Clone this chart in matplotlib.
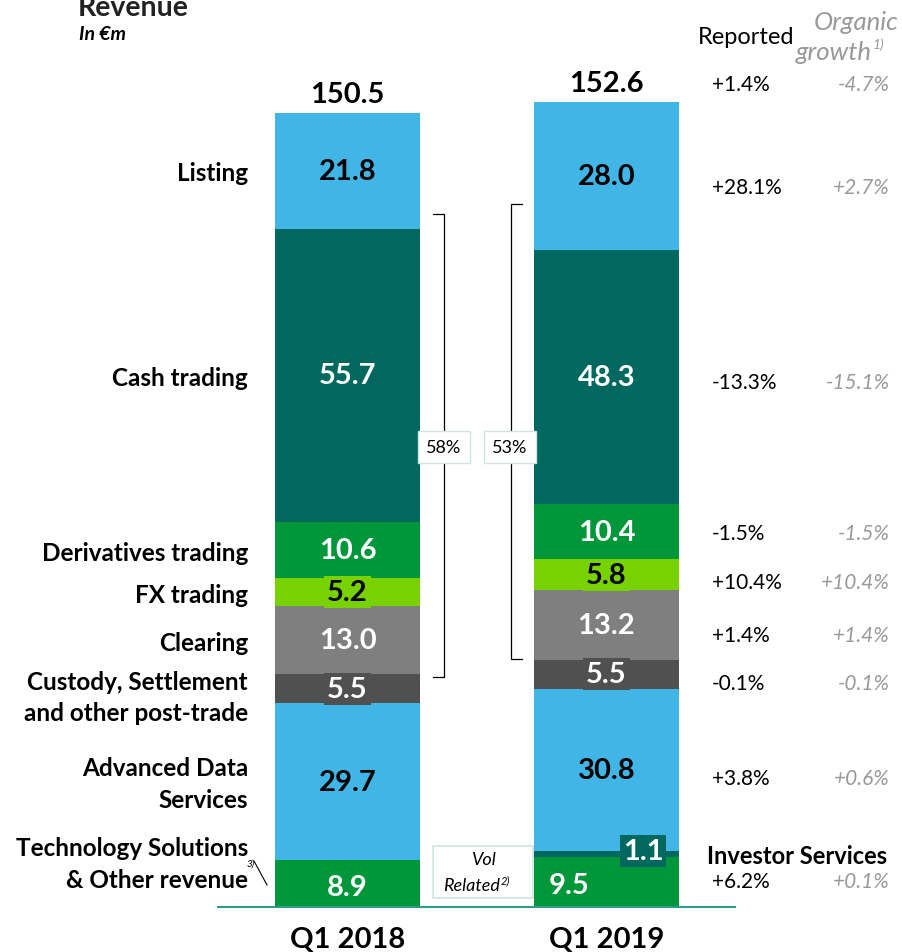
import matplotlib
matplotlib.use('Agg')
import matplotlib.pyplot as plt
import numpy as np
from matplotlib.patches import Rectangle

plt.rcParams['font.family'] = ['Lato', 'DejaVu Sans']

# Data
periods = ["Q1 2018", "Q1 2019"]
totals = ["150.5", "152.6"]
segments = ["Technology Solutions", "Investor Services", "Advanced Data Services",
            "Custody", "Clearing", "FX trading", "Derivatives trading",
            "Cash trading", "Listing"]
q1_2018 = [8.9, 0.0, 29.7, 5.5, 13.0, 5.2, 10.6, 55.7, 21.8]
q1_2019 = [9.5, 1.1, 30.8, 5.5, 13.2, 5.8, 10.4, 48.3, 28.0]
left_labels = ["Technology Solutions\n& Other revenue", None, "Advanced Data\nServices",
               "Custody, Settlement\nand other post-trade", "Clearing", "FX trading",
               "Derivatives trading", "Cash trading", "Listing"]
reported = ["+1.4%", "+28.1%", "-13.3%", "-1.5%", "+10.4%", "+1.4%", "-0.1%", "+3.8%", "+6.2%"]
organic = ["-4.7%", "+2.7%", "-15.1%", "-1.5%", "+10.4%", "+1.4%", "-0.1%", "+0.6%", "+0.1%"]
vol_share = ["58%", "53%"]

colors = ["#00963A", "#00685E", "#41B5E6", "#505050", "#7F7F7F",
          "#78D200", "#00963A", "#00685E", "#41B5E6"]
txt_colors = ["white", "white", "black", "white", "white", "black", "white", "white", "black"]

W, H = 902, 953
fig = plt.figure(figsize=(W / 100, H / 100), dpi=100)
scale = 5.276  # px per EUR m
base = 908
ax = fig.add_axes([0, 0, 1, 1])
ax.set_xlim(0, W)
ax.set_ylim(-(H - base) / scale, base / scale)
ax.axis('off')


def ftxt(x, y, s, **kw):
    fig.text(x / W, 1 - y / H, s, **kw)


def py(v):
    return base - v * scale


centers = [347.5, 606.5]
bw = 145
for xi, vals in zip(centers, [q1_2018, q1_2019]):
    bottoms = np.concatenate([[0], np.cumsum(vals)[:-1]])
    ax.bar([xi] * len(vals), vals, bottom=bottoms, width=bw, color=colors, linewidth=0)

ax.plot([218, 735], [0, 0], color="#2E9C8C", lw=1.5)

# value labels
boxed = {3, 5}
for j, (xi, vals) in enumerate(zip(centers, [q1_2018, q1_2019])):
    bottoms = np.concatenate([[0], np.cumsum(vals)[:-1]])
    for i, v in enumerate(vals):
        if v == 0 or i == 1:
            continue
        yc = bottoms[i] + v / 2
        tx = xi
        if i == 0:
            yc = bottoms[i] + v / 2 - 0.6
            if j == 1:
                tx = xi - 37
        bbox = None
        if i in boxed:
            bbox = dict(boxstyle="square,pad=0.1", fc=colors[i], ec="none")
        ax.text(tx, yc, f"{v:.1f}", ha="center", va="center", fontsize=21,
                fontweight="bold", color=txt_colors[i], bbox=bbox)

# investor services label box
ax.text(643, q1_2019[0] + q1_2019[1] / 2 + 0.6, f"{q1_2019[1]:.1f}", ha="center", va="center",
        fontsize=21, fontweight="bold", color="white",
        bbox=dict(boxstyle="square,pad=0.1", fc="#00685E", ec="none"))

# totals
for xi, t, vals in zip(centers, totals, [q1_2018, q1_2019]):
    ax.text(xi, sum(vals) + 1.2, t, ha="center", va="bottom", fontsize=21, fontweight="bold")

for xi, p in zip(centers, periods):
    ftxt(xi, 940, p, ha="center", va="center", fontsize=21, fontweight="bold")

# left labels at Q1 2018 segment centers
b18 = np.concatenate([[0], np.cumsum(q1_2018)[:-1]])
offs = {0: -20, 3: 8, 2: 2}
for i, lab in enumerate(left_labels):
    if lab is None:
        continue
    yc = py(b18[i] + q1_2018[i] / 2) + offs.get(i, 2)
    ftxt(248, yc, lab, ha="right", va="center", fontsize=17.5,
         fontweight="bold", linespacing=1.45)

# footnote 3)
ftxt(247, 864, "3)", fontsize=7, style="italic", ha="left", va="center")
ax.plot([254, 267], [(base - 862) / scale, (base - 886) / scale], color="black", lw=0.8)

# brackets
for xv, xt, ytop, ybot, lab, bx in [(444, 433, 215, 678, vol_share[0], 444),
                                     (511, 522, 205, 660, vol_share[1], 510)]:
    ax.plot([xt, xv, xv, xt], [(base - ytop) / scale, (base - ytop) / scale,
                               (base - ybot) / scale, (base - ybot) / scale],
            color="black", lw=0.9)
    ax.text(bx, (base - 448) / scale, lab, ha="center", va="center", fontsize=13,
            bbox=dict(boxstyle="square,pad=0.45", fc="white", ec="#CDE5E3"))

# header
ftxt(78, 8, "Revenue", fontsize=20.5, fontweight="bold", ha="left", va="center", color="#222222")
ftxt(79, 35, "In €m", fontsize=14, fontweight="bold", style="italic", ha="left", va="center")
ftxt(746, 38, "Reported", fontsize=17, ha="center", va="center")
ftxt(856, 22, "Organic", fontsize=18.5, ha="center", va="center", style="italic", color="#999999")
ftxt(872, 52, "growth", fontsize=18.5, ha="right", va="center", style="italic", color="#999999")
ftxt(873, 45, "1)", fontsize=10, ha="left", va="center", style="italic", color="#999999")

rows = [85, 188, 383, 534, 583, 636, 684, 779, 882]
for r, o, yr in zip(reported, organic, rows):
    ftxt(712, yr, r, fontsize=15, ha="left", va="center")
    ftxt(890, yr, o, fontsize=15, ha="right", va="center", style="italic", color="#999999")

ftxt(797, 857, "Investor Services", fontsize=17, fontweight="bold", ha="center", va="center")

# vol related box
ax.add_patch(Rectangle((433, (base - 899) / scale), 100, 52 / scale, fc="white",
                       ec="#CDE5E3", lw=1.2))
ftxt(483, 860, "Vol", fontsize=13, style="italic", ha="center", va="center")
ftxt(500, 886, "Related", fontsize=13, style="italic", ha="right", va="center")
ftxt(501, 881, "2)", fontsize=8, style="italic", ha="left", va="center")

fig.savefig("out.png", dpi=100)
